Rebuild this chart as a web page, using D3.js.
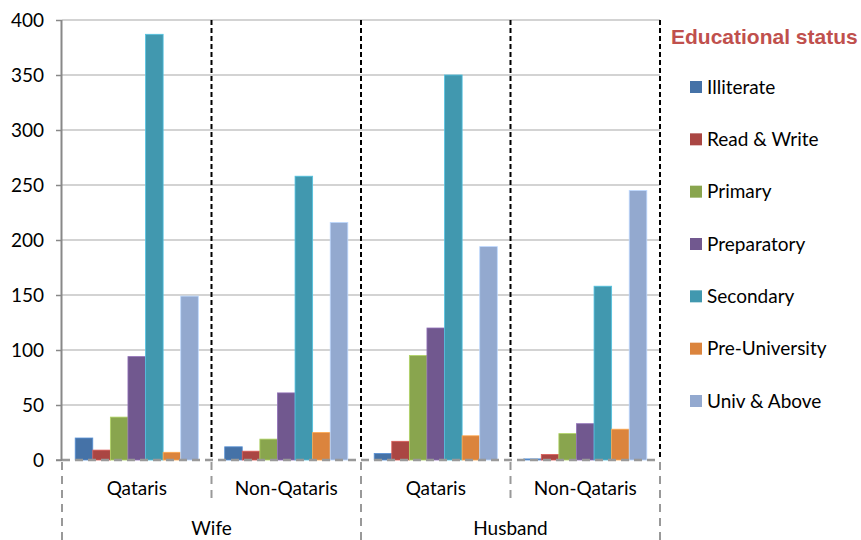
<!DOCTYPE html>
<html>
<head>
<meta charset="utf-8">
<script src="https://cdn.jsdelivr.net/npm/d3@7"></script>
<style>
  body { margin: 0; background: #fff; }
  text { font-family: Lato, "Open Sans", sans-serif; fill: #000; }
</style>
</head>
<body>
<div id="chart"></div>
<script>
// chart data
const spouses = ['Wife', 'Husband'];
const nationalities = ['Qataris', 'Non-Qataris'];
const groups = ['Wife|Qataris', 'Wife|Non-Qataris', 'Husband|Qataris', 'Husband|Non-Qataris'];
const series = ['Illiterate', 'Read & Write', 'Primary', 'Preparatory', 'Secondary', 'Pre-University', 'Univ & Above'];
const illiterate    = [20, 12, 6, 1];
const readWrite     = [9, 8, 17, 5];
const primary       = [39, 19, 95, 24];
const preparatory   = [94, 61, 120, 33];
const secondary     = [387, 258, 350, 158];
const preUniversity = [7, 25, 22, 28];
const univAbove     = [149, 216, 194, 245];
const yTicks = [0, 50, 100, 150, 200, 250, 300, 350, 400];

const values = [illiterate, readWrite, primary, preparatory, secondary, preUniversity, univAbove];
const colors = ['#4572A7', '#AA4643', '#89A54E', '#71588F', '#4198AF', '#DB843D', '#93A9CF'];

const width = 861, height = 540;
const margin = {top: 20, right: 201, bottom: 80, left: 62};
const plotW = width - margin.left - margin.right,
      plotH = height - margin.top - margin.bottom;
const fontSize = '19px';

const svg = d3.select('#chart').append('svg')
    .attr('width', width)
    .attr('height', height);

const g = svg.append('g')
    .attr('transform', `translate(${margin.left}, ${margin.top})`);

const yScale = d3.scaleLinear().domain([0, 400]).range([plotH, 0]);
const xScale = d3.scaleBand().domain(groups).range([0, plotW]);
const inner = d3.scaleBand().domain(series).range([0, xScale.bandwidth()])
    .paddingInner(0).paddingOuter(0.75);

// gridlines
g.append('g')
    .selectAll('line')
    .data(yTicks.filter(d => d > 0))
    .enter().append('line')
    .attr('x1', 0).attr('x2', plotW)
    .attr('y1', d => yScale(d)).attr('y2', d => yScale(d))
    .attr('stroke', '#c4c4c4')
    .attr('stroke-width', 1.6);

// bars
const rows = [];
groups.forEach((grp, gi) => {
    series.forEach((s, si) => rows.push({grp, s, si, v: values[si][gi]}));
});
g.append('g')
    .selectAll('rect')
    .data(rows)
    .enter().append('rect')
    .attr('x', d => xScale(d.grp) + inner(d.s))
    .attr('y', d => yScale(d.v))
    .attr('width', inner.bandwidth())
    .attr('height', d => plotH - yScale(d.v))
    .attr('fill', d => colors[d.si])
    .attr('stroke', d => d3.color(colors[d.si]).brighter(0.7))
    .attr('stroke-width', 0.8);

// black dashed group dividers
g.append('g')
    .selectAll('line')
    .data(groups)
    .enter().append('line')
    .attr('x1', d => xScale(d) + xScale.bandwidth())
    .attr('x2', d => xScale(d) + xScale.bandwidth())
    .attr('y1', 0).attr('y2', plotH)
    .attr('stroke', '#000')
    .attr('stroke-width', 2)
    .attr('stroke-dasharray', '5,3');

// zero baseline
g.append('line')
    .attr('x1', 0).attr('x2', plotW)
    .attr('y1', plotH).attr('y2', plotH)
    .attr('stroke', '#999')
    .attr('stroke-width', 2.5)
    .attr('stroke-dasharray', '8,5');

// Y axis
const yAxis = g.append('g')
    .call(d3.axisLeft(yScale).tickValues(yTicks).tickSize(6).tickPadding(12));
yAxis.select('.domain').attr('stroke', '#888').attr('stroke-width', 2).attr('d', `M-0.5,${plotH}V0`);
yAxis.selectAll('.tick line').attr('stroke', '#888').attr('stroke-width', 1.5);
yAxis.selectAll('.tick text').style('font-size', fontSize).attr('fill', '#000');

// category axis: gray dashed separators below the plot
const sepData = [];
groups.forEach((grp, gi) => {
    sepData.push({x: xScale(grp), long: gi % 2 === 0});
});
sepData.push({x: plotW, long: true});
g.append('g')
    .selectAll('line')
    .data(sepData)
    .enter().append('line')
    .attr('x1', d => d.x).attr('x2', d => d.x)
    .attr('y1', plotH + 2).attr('y2', d => d.long ? plotH + 80 : plotH + 40)
    .attr('stroke', '#999')
    .attr('stroke-width', 2)
    .attr('stroke-dasharray', '8,6');

g.append('line')
    .attr('x1', -6).attr('x2', 0)
    .attr('y1', plotH).attr('y2', plotH)
    .attr('stroke', '#888').attr('stroke-width', 1.5);

// nationality labels
g.append('g')
    .selectAll('text')
    .data(groups)
    .enter().append('text')
    .attr('x', d => xScale(d) + xScale.bandwidth() / 2)
    .attr('y', plotH + 35)
    .attr('text-anchor', 'middle')
    .style('font-size', fontSize)
    .text(d => d.split('|')[1]);

// spouse labels
g.append('g')
    .selectAll('text')
    .data(spouses)
    .enter().append('text')
    .attr('x', (d, i) => xScale(groups[i * 2]) + xScale.bandwidth())
    .attr('y', plotH + 75)
    .attr('text-anchor', 'middle')
    .style('font-size', fontSize)
    .text(d => d);

// legend
const legend = svg.append('g')
    .attr('transform', `translate(671, 0)`);

legend.append('text')
    .attr('x', 0).attr('y', 44)
    .style('font-family', '"Liberation Sans", Arial, sans-serif')
    .style('font-size', '21px')
    .style('font-weight', 'bold')
    .style('fill', '#C0504D')
    .text('Educational status');

const legendY = d3.scalePoint().domain(series).range([87, 401]);
const item = legend.selectAll('.item')
    .data(series)
    .enter().append('g')
    .attr('class', 'item')
    .attr('transform', d => `translate(0, ${legendY(d)})`);

item.append('rect')
    .attr('x', 19).attr('y', -6)
    .attr('width', 12).attr('height', 12)
    .attr('fill', (d, i) => colors[i]);

item.append('text')
    .attr('x', 36).attr('y', 0)
    .attr('dy', '0.35em')
    .style('font-size', fontSize)
    .text(d => d);
</script>
</body>
</html>
